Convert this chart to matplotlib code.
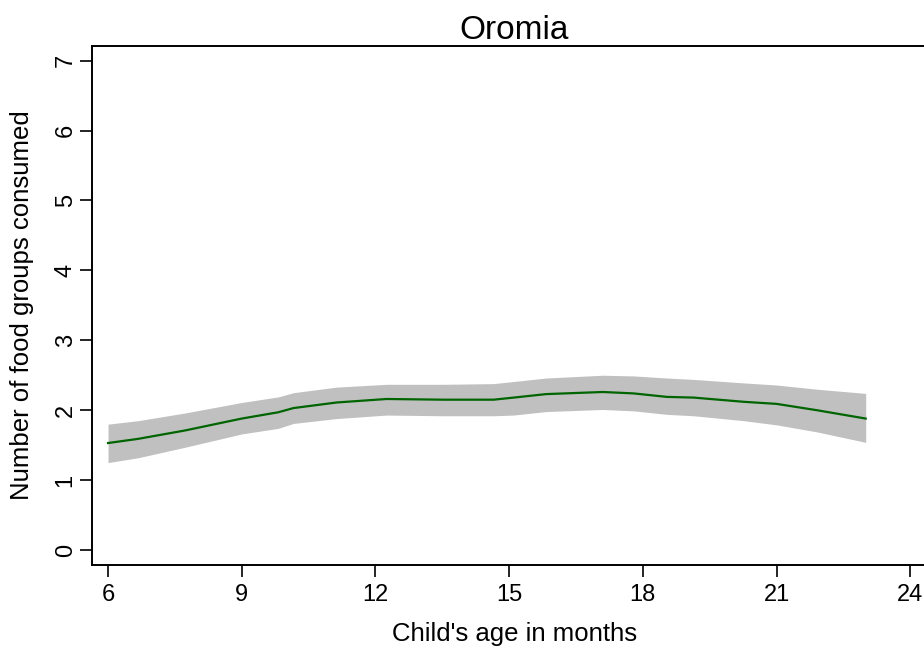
import numpy as np
import matplotlib
matplotlib.use('Agg')
import matplotlib.pyplot as plt

# values
age = [6.0, 6.68, 7.73, 9.0, 9.82, 10.16, 11.13, 12.25, 13.53, 14.65, 15.1,
       15.83, 17.1, 17.79, 18.54, 19.14, 20.26, 21.0, 21.9, 23.0]
mean = [1.53, 1.59, 1.71, 1.88, 1.97, 2.03, 2.11, 2.16, 2.15, 2.15, 2.18,
        2.23, 2.26, 2.24, 2.19, 2.18, 2.12, 2.09, 2.00, 1.88]
upper = [1.80, 1.85, 1.96, 2.11, 2.19, 2.25, 2.33, 2.37, 2.37, 2.38, 2.41,
         2.46, 2.50, 2.49, 2.46, 2.44, 2.39, 2.36, 2.30, 2.24]
lower = [1.25, 1.32, 1.47, 1.66, 1.74, 1.81, 1.88, 1.93, 1.92, 1.92, 1.93,
         1.98, 2.01, 1.99, 1.94, 1.92, 1.85, 1.79, 1.69, 1.54]
xticks = [6, 9, 12, 15, 18, 21, 24]
yticks = [0, 1, 2, 3, 4, 5, 6, 7]

plt.rcParams['font.family'] = ['Liberation Sans', 'DejaVu Sans']

fig = plt.figure(figsize=(9.24, 6.52), dpi=100)
W, H = 924.0, 652.0
xlim = (5.64, 24.6)
ylim = (-0.215, 7.21)
x0, x1 = 92, 937
y0, y1 = 46, 565
ax = fig.add_axes([x0 / W, 1 - y1 / H, (x1 - x0) / W, (y1 - y0) / H])

ax.fill_between(age, lower, upper, color='#c0c0c0', linewidth=0)
ax.plot(age, mean, color='#006400', linewidth=1.6)

ax.set_xlim(xlim)
ax.set_ylim(ylim)
ax.set_xticks(xticks)
ax.set_yticks(yticks)
ax.tick_params(direction='out', length=8.5, width=1.2, labelsize=17, color='black')
ax.tick_params(axis='x', pad=5.5)
ax.tick_params(axis='y', pad=2.5)
for lab in ax.get_yticklabels():
    lab.set_rotation(90)
    lab.set_va('center')
for sp in ax.spines.values():
    sp.set_linewidth(1.4)

ax.set_title('Oromia', fontsize=24, pad=4.5)
ax.set_xlabel("Child's age in months", fontsize=18.5, labelpad=11)
ax.set_ylabel('Number of food groups consumed', fontsize=18.5, labelpad=15)

fig.savefig('out.png', dpi=100)
